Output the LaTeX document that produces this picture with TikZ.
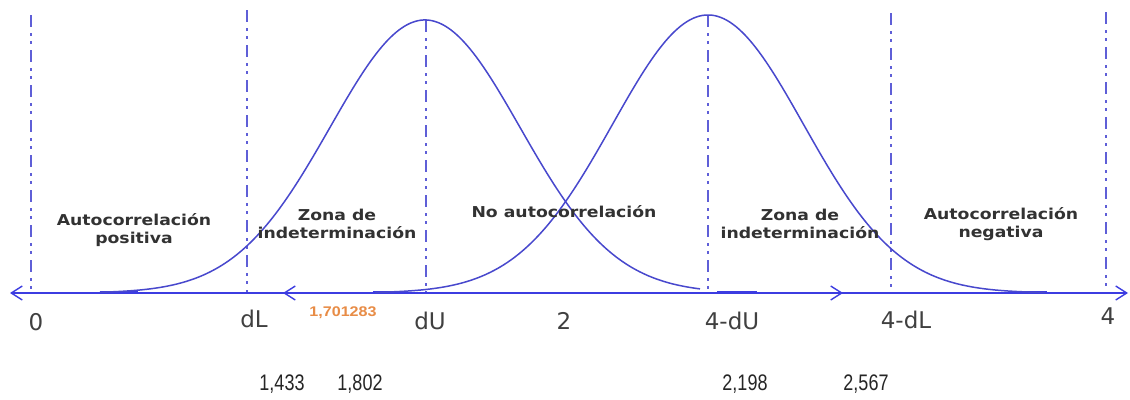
\documentclass[tikz,border=0pt]{standalone}
\usepackage{fontspec}
\usepackage{graphicx}
\usetikzlibrary{arrows.meta}
\newfontfamily\zonefont{DejaVu Sans}
\newfontfamily\axfont{DejaVu Sans}
\newfontfamily\numfont{Liberation Sans}
\definecolor{curveblue}{RGB}{72,72,205}
\definecolor{axisblue}{RGB}{60,60,225}
\definecolor{vlineblue}{RGB}{95,95,215}
\definecolor{labgray}{RGB}{50,50,50}
\definecolor{axgray}{RGB}{64,64,64}
\definecolor{orangenum}{RGB}{232,140,70}
\newcommand{\hs}[1]{\scalebox{1.15}[1]{#1}}
\newcommand{\ns}[1]{\scalebox{0.8}[1]{#1}}
\begin{document}
\begin{tikzpicture}[x=1pt,y=-1pt,
  vline/.style={draw=vlineblue, line width=2pt, dash pattern=on 12pt off 6pt on 3pt off 5pt on 3pt off 6pt},
  curve/.style={draw=curveblue, line width=1.5pt},
  axisline/.style={draw=axisblue, line width=1.4pt},
  barb/.style={{Straight Barb[length=11pt,width=14pt]}-{Straight Barb[length=11pt,width=14pt]}},
  tailseg/.style={draw=axisblue, line width=3pt},
  zone/.style={font=\zonefont\bfseries\fontsize{15}{17.5}\selectfont, text=labgray, align=center, inner sep=0pt},
  axlab/.style={font=\axfont\fontsize{23}{26}\selectfont, text=axgray, inner sep=0pt},
  numlab/.style={font=\numfont\fontsize{22.5}{25}\selectfont, text=black!85, inner sep=0pt},
  orlab/.style={font=\numfont\bfseries\fontsize{14}{16}\selectfont, text=orangenum, inner sep=0pt}
]
\useasboundingbox[fill=white] (0,0) rectangle (1130,399);

% vertical dash-dot lines
\foreach \nm/\xx/\yt in {v0/31/15, vdL/247/10, vdU/426/20, vfdU/708/15, vfdL/891/13, vf/1106/12}{
  \coordinate (\nm t) at (\xx,\yt);
  \coordinate (\nm b) at (\xx,293);
  \draw[vline] (\nm t) -- (\nm b);
}

% axis with arrows
\coordinate (aL) at (10,293);
\coordinate (aM1) at (843,293);
\coordinate (aM2) at (283,293);
\coordinate (aR) at (1128,293);
\draw[axisline, barb] (aL) -- (aM1);
\draw[axisline, barb] (aM2) -- (aR);

% thick tail segments
\coordinate (s1a) at (100,292); \coordinate (s1b) at (138,292);
\coordinate (s2a) at (373,292); \coordinate (s2b) at (405,292);
\coordinate (s3a) at (717,292); \coordinate (s3b) at (757,292);
\coordinate (s4a) at (1013,292); \coordinate (s4b) at (1047,292);
\draw[tailseg] (s1a) -- (s1b);
\draw[tailseg] (s2a) -- (s2b);
\draw[tailseg] (s3a) -- (s3b);
\draw[tailseg] (s4a) -- (s4b);

% bell curves
\draw[curve] plot[domain=100:700, samples=220, smooth] (\x, {293-273*exp(-0.5*((\x-425)/95)^2)});
\draw[curve] plot[domain=375:1045, samples=220, smooth] (\x, {293-278*exp(-0.5*((\x-708)/95.5)^2)});

% zone labels
\node[zone] (pos) at (134,230) {\hs{Autocorrelación}\\\hs{positiva}};
\node[zone] (zona1) at (337,224) {\hs{Zona de}\\\hs{indeterminación}};
\node[zone] (noauto) at (564,212) {\hs{No autocorrelación}};
\node[zone] (zona2) at (800,224) {\hs{Zona de}\\\hs{indeterminación}};
\node[zone] (neg) at (1001,224) {\hs{Autocorrelación}\\\hs{negativa}};

% axis labels
\node[axlab] (l0) at (36,322) {0};
\node[axlab] (ldL) at (254,319) {dL};
\node[orlab] (lor) at (343,313) {\scalebox{1.15}[1]{1,701283}};
\node[axlab] (ldU) at (430,321) {dU};
\node[axlab] (l2) at (564,321) {2};
\node[axlab] (lfdU) at (732,321) {4-dU};
\node[axlab] (lfdL) at (906,320) {4-dL};
\node[axlab] (lf) at (1108,316) {4};

% numeric values
\node[numlab] (n1) at (282,384) {\ns{1,433}};
\node[numlab] (n2) at (360,384) {\ns{1,802}};
\node[numlab] (n3) at (745,384) {\ns{2,198}};
\node[numlab] (n4) at (866,384) {\ns{2,567}};
\end{tikzpicture}
\end{document}
